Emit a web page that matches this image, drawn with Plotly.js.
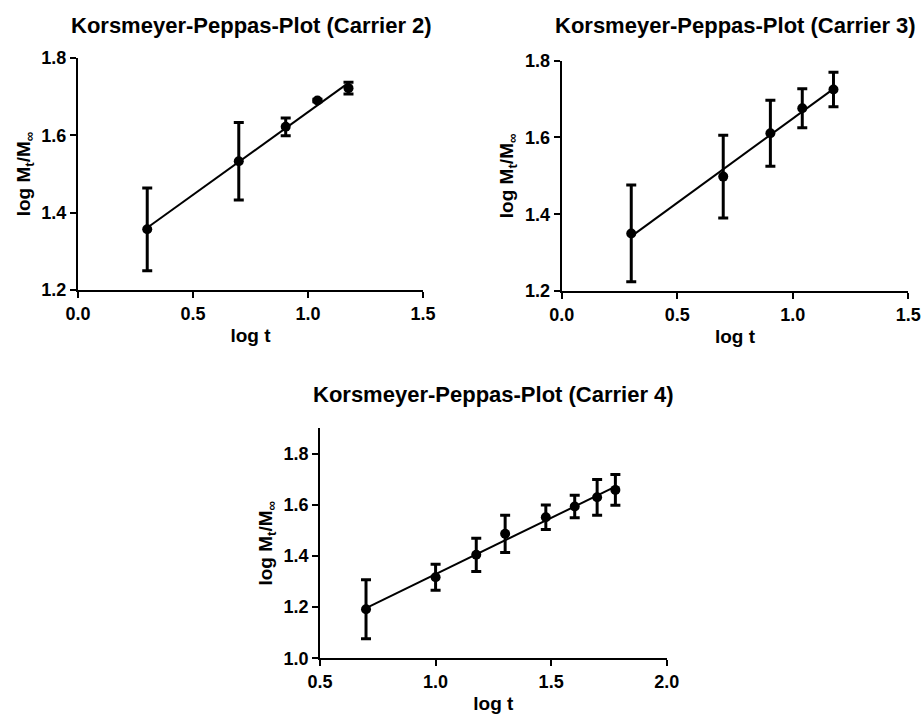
<!DOCTYPE html>
<html><head><meta charset="utf-8">
<script src="https://cdn.plot.ly/plotly-3.0.1.min.js"></script>
<style>html,body{margin:0;padding:0;background:#fff}</style>
</head><body><div id="chart" style="width:922px;height:715px"></div>
<script>
// Carrier 2
const c2_logt = [0.301, 0.699, 0.903, 1.041, 1.176];
const c2_mean = [1.357, 1.533, 1.622, 1.690, 1.722];
const c2_err  = [0.107, 0.100, 0.023, 0.003, 0.015];
// Carrier 3
const c3_logt = [0.301, 0.699, 0.903, 1.041, 1.176];
const c3_mean = [1.350, 1.498, 1.611, 1.676, 1.725];
const c3_err  = [0.126, 0.108, 0.086, 0.051, 0.045];
// Carrier 4
const c4_logt = [0.699, 1.000, 1.176, 1.301, 1.477, 1.602, 1.699, 1.778];
const c4_mean = [1.192, 1.317, 1.405, 1.487, 1.552, 1.594, 1.630, 1.659];
const c4_err  = [0.115, 0.051, 0.065, 0.073, 0.048, 0.044, 0.070, 0.060];

const titles = ['Korsmeyer-Peppas-Plot (Carrier 2)','Korsmeyer-Peppas-Plot (Carrier 3)','Korsmeyer-Peppas-Plot (Carrier 4)'];

function fit(x, y) {
  const n = x.length;
  const mx = x.reduce((a,b)=>a+b,0)/n, my = y.reduce((a,b)=>a+b,0)/n;
  let sxx=0, sxy=0;
  for (let i=0;i<n;i++){sxx+=(x[i]-mx)**2; sxy+=(x[i]-mx)*(y[i]-my);}
  const m = sxy/sxx, b = my - m*mx;
  const xs = [Math.min(...x), Math.max(...x)];
  return {x: xs, y: xs.map(v=>m*v+b)};
}

const FONT = 'Liberation Sans, Arial, sans-serif';
const traces = [];
[[c2_logt,c2_mean,c2_err,'x','y'],[c3_logt,c3_mean,c3_err,'x2','y2'],[c4_logt,c4_mean,c4_err,'x3','y3']].forEach(([x,y,e,xa,ya])=>{
  const f = fit(x,y);
  traces.push({x:f.x, y:f.y, xaxis:xa, yaxis:ya, mode:'lines', line:{color:'#000', width:2}, hoverinfo:'skip'});
  traces.push({x:x, y:y, xaxis:xa, yaxis:ya, mode:'markers',
    marker:{color:'#000', size:10, symbol:'circle'},
    error_y:{type:'data', array:e, visible:true, color:'#000', thickness:3, width:5}});
});

function xax(domain, range, dtick, anchor) {
  return {domain, range, dtick, tick0:0, anchor, showline:true, linewidth:2, linecolor:'#000',
    ticks:'outside', ticklen:6, tickwidth:2, tickcolor:'#000', showgrid:false, zeroline:false,
    tickformat:'.1f', tickfont:{family:FONT, size:18, weight:'bold', color:'#000'},
    title:{text:'log t', font:{family:FONT, size:19, weight:'bold', color:'#000'}, standoff:6}};
}
function yax(domain, range, anchor, tickvals) {
  return {domain, range, anchor, tickvals, showline:true, linewidth:2, linecolor:'#000',
    ticks:'outside', ticklen:6, tickwidth:2, tickcolor:'#000', showgrid:false, zeroline:false,
    tickformat:'.1f', tickfont:{family:FONT, size:18, weight:'bold', color:'#000'},
    title:{text:'log M<sub>t</sub>/M<sub>∞</sub>', font:{family:FONT, size:19, weight:'bold', color:'#000'}, standoff:6}};
}

const layout = {
  width:922, height:715, margin:{l:0,r:0,t:0,b:0}, showlegend:false,
  paper_bgcolor:'#fff', plot_bgcolor:'#fff',
  xaxis: xax([0.0846,0.4588],[0,1.5],0.5,'y'),
  yaxis: yax([0.5944,0.9189],[1.2,1.8],'x',[1.2,1.4,1.6,1.8]),
  xaxis2: xax([0.6092,0.9852],[0,1.5],0.5,'y2'),
  yaxis2: yax([0.5930,0.9151],[1.2,1.8],'x2',[1.2,1.4,1.6,1.8]),
  xaxis3: xax([0.3471,0.7231],[0.5,2.0],0.5,'y3'),
  yaxis3: yax([0.0793,0.4010],[1.0,1.9],'x3',[1.0,1.2,1.4,1.6,1.8]),
  annotations: [
    {text:titles[0], x:251/922, y:1-25/715},
    {text:titles[1], x:735/922, y:1-25/715},
    {text:titles[2], x:493/922, y:1-395/715}
  ].map(a=>Object.assign(a,{xref:'paper', yref:'paper', showarrow:false, xanchor:'center', yanchor:'middle',
    font:{family:FONT, size:22, weight:'bold', color:'#000'}}))
};
Plotly.newPlot('chart', traces, layout, {displayModeBar:false, staticPlot:true});
</script></body></html>
